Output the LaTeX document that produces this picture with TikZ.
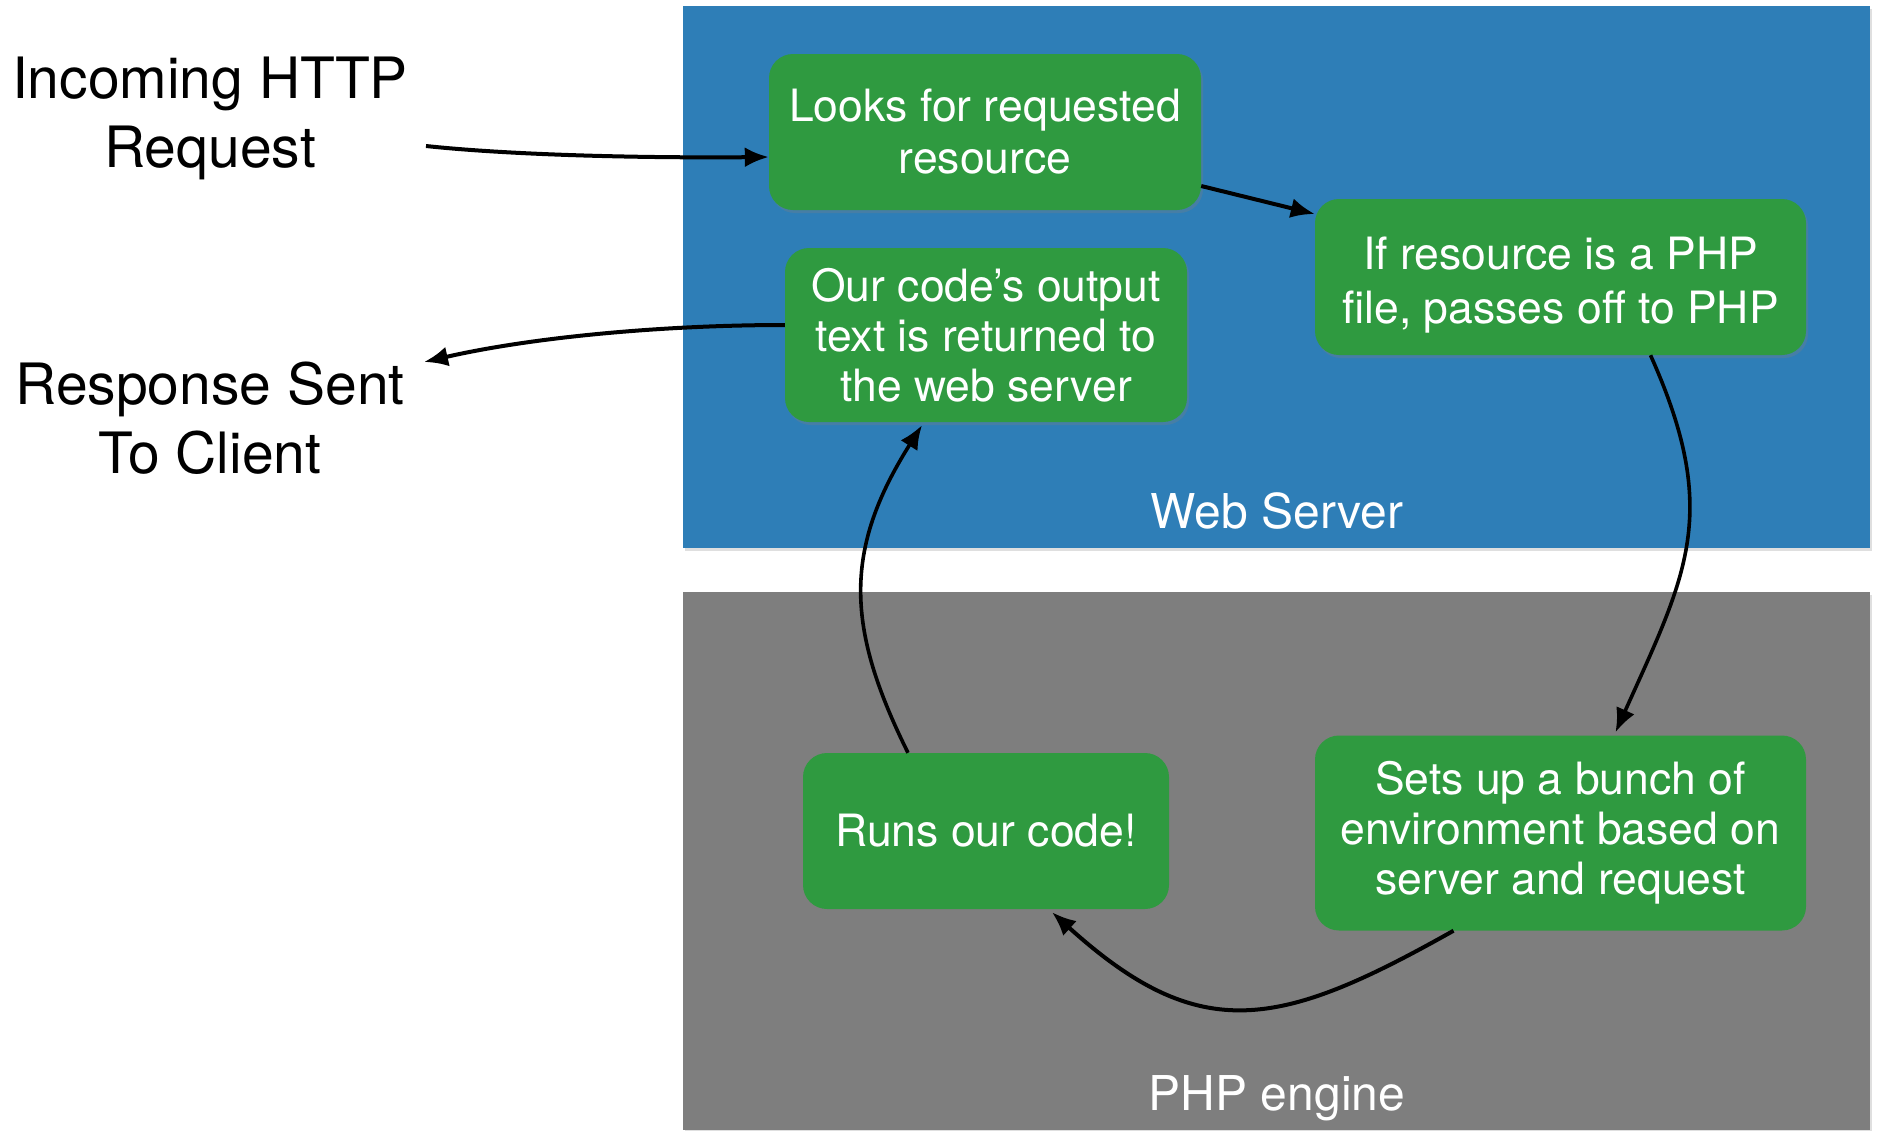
\documentclass[tikz,border=0pt]{standalone}
\usepackage{fontspec}
\setmainfont{TeX Gyre Heros}
\usetikzlibrary{arrows.meta,shadows}

\definecolor{serverblue}{RGB}{46,126,183}
\definecolor{enginegray}{RGB}{126,126,126}
\definecolor{stepgreen}{RGB}{47,154,64}

\tikzset{
  panel/.style={draw=none, drop shadow={opacity=0.25, shadow xshift=2pt, shadow yshift=-3pt}},
  stepbox/.style={fill=stepgreen, draw=none, rounded corners=24pt, inner sep=0pt,
    align=center, text=white, font=\fontsize{44.5}{50}\selectfont,
    drop shadow={opacity=0.3, shadow xshift=2pt, shadow yshift=-3pt}},
  panellabel/.style={text=white, font=\fontsize{48}{56}\selectfont},
  sidelabel/.style={text=black, align=center, font=\fontsize{57}{69}\selectfont},
  flow/.style={draw=black, line width=4pt, -{Latex[length=24pt,width=20pt]}},
  thinflow/.style={flow, line width=3.6pt}
}

\begin{document}
\begin{tikzpicture}[x=1pt, y=-1pt]
  \useasboundingbox (0,0) rectangle (1881,1130);

  % the two areas
  \fill[serverblue, panel] (683,6) rectangle (1870,548);
  \fill[enginegray, panel] (683,592) rectangle (1870,1130);
  \node[panellabel] (wslabel) at (1277,511) {Web Server};
  \node[panellabel] (phplabel) at (1277,1098) {PHP engine};

  % processing steps
  \node[stepbox, minimum width=432pt, minimum height=156pt] (looks) at (985,132)
    {Looks for requested\\[2pt]resource};
  \node[stepbox, minimum width=491pt, minimum height=156pt] (ifres) at (1560.5,277)
    {\rule{0pt}{48pt}If resource is a PHP\\[4pt]file, passes off to PHP};
  \node[stepbox, minimum width=402pt, minimum height=174pt] (ourcode) at (986,335)
    {Our code’s output\\text is returned to\\the web server};
  \node[stepbox, minimum width=366pt, minimum height=156pt] (runs) at (986,831)
    {Runs our code!};
  \node[stepbox, minimum width=491pt, minimum height=195pt] (sets) at (1560.5,833)
    {Sets up a bunch of\\environment based on\\server and request};

  % outside the server
  \node[sidelabel] (incoming) at (210,118) {Incoming HTTP\\Request};
  \node[sidelabel] (response) at (210,418) {Response Sent\\To Client};
  \coordinate (reqstart) at (426,146);
  \coordinate (respend) at (424,362);

  % request / response flow
  \draw[flow] (reqstart) .. controls +(94,10) and +(-109,1) .. ([yshift=-25pt]looks.west);
  \draw[flow] ([yshift=-54pt]looks.east) -- ([yshift=63pt]ifres.west);
  \draw[thinflow] ([xshift=90pt]ifres.south) .. controls +(71,158) and +(71,-158) .. ([xshift=55pt,yshift=3pt]sets.north);
  \draw[flow] ([xshift=-107pt]sets.south) .. controls +(-174,98) and +(148,134) .. ([xshift=66pt,yshift=-3pt]runs.south);
  \draw[thinflow] ([xshift=-78pt]runs.north) .. controls +(-62,-125) and +(-79,125) .. ([xshift=-64pt,yshift=-3pt]ourcode.south);
  \draw[flow] ([yshift=10pt]ourcode.west) .. controls +(-121,0) and +(109,-25) .. (respend);
\end{tikzpicture}
\end{document}
